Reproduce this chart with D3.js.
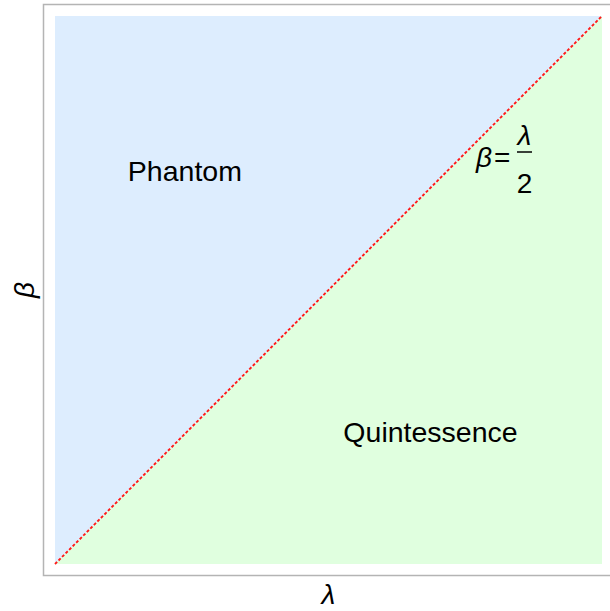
<!DOCTYPE html>
<html>
<head>
<meta charset="utf-8">
<script src="https://cdn.jsdelivr.net/npm/d3@7"></script>
<style>
  body { margin: 0; background: #fff; }
  text { font-family: "Liberation Sans", Arial, sans-serif; fill: #000; }
</style>
</head>
<body>
<div id="chart"></div>
<script>
// data
const lambdaDomain = [0, 2];
const betaDomain = [0, 1];
const boundaryLambda = [0, 2];
const boundaryBeta = [0, 1];
const regionNames = ["Phantom", "Quintessence"];
const phantomPts = [[0, 0], [0, 1], [2, 1]];
const quintPts = [[0, 0], [2, 0], [2, 1]];

const width = 610, height = 611;

const svg = d3.select("#chart").append("svg")
    .attr("width", width).attr("height", height);

const x = d3.scaleLinear().domain(lambdaDomain).range([55, 602]);
const y = d3.scaleLinear().domain(betaDomain).range([564, 16]);

// frame
svg.append("rect")
    .attr("x", 43.5).attr("y", 4.5)
    .attr("width", 571).attr("height", 571)
    .attr("fill", "none")
    .attr("stroke", "#b4b4b4")
    .attr("stroke-width", 1.5);

const poly = d3.line().x(d => x(d[0])).y(d => y(d[1]));

svg.append("path")
    .attr("d", poly(phantomPts) + "Z")
    .attr("fill", "#ddedfe");

svg.append("path")
    .attr("d", poly(quintPts) + "Z")
    .attr("fill", "#e0ffdf");

// boundary line
const boundary = boundaryLambda.map((l, i) => [l, boundaryBeta[i]]);
svg.append("path")
    .attr("d", poly(boundary))
    .attr("fill", "none")
    .attr("stroke", "#ff1a1a")
    .attr("stroke-width", 1.9)
    .attr("stroke-dasharray", "3,2");

// region labels
svg.append("text")
    .attr("x", x(0.475)).attr("y", y(0.699))
    .attr("text-anchor", "middle")
    .attr("font-size", 28.5)
    .text(regionNames[0]);

svg.append("text")
    .attr("x", x(1.373)).attr("y", y(0.223))
    .attr("text-anchor", "middle")
    .attr("font-size", 28.5)
    .text(regionNames[1]);

// beta = lambda / 2 label
const lab = svg.append("g").attr("transform", "translate(476,167)");
lab.append("text")
    .attr("x", 0).attr("y", 0)
    .attr("font-size", 28)
    .attr("font-style", "italic")
    .text("β");
lab.append("text")
    .attr("x", 18).attr("y", 0)
    .attr("font-size", 28)
    .text("=");
lab.append("text")
    .attr("x", 48.5).attr("y", -22)
    .attr("text-anchor", "middle")
    .attr("font-size", 28)
    .attr("font-style", "italic")
    .text("λ");
lab.append("line")
    .attr("x1", 41).attr("x2", 56)
    .attr("y1", -15).attr("y2", -15)
    .attr("stroke", "#000").attr("stroke-width", 1.5);
lab.append("text")
    .attr("x", 48.5).attr("y", 26)
    .attr("text-anchor", "middle")
    .attr("font-size", 28)
    .text("2");

// axis labels
svg.append("text")
    .attr("transform", `translate(34,${(y(0) + y(1)) / 2}) rotate(-90)`)
    .attr("text-anchor", "middle")
    .attr("font-size", 28)
    .attr("font-style", "italic")
    .text("β");

svg.append("text")
    .attr("x", (x(0) + x(2)) / 2).attr("y", 604)
    .attr("text-anchor", "middle")
    .attr("font-size", 28)
    .attr("font-style", "italic")
    .text("λ");
</script>
</body>
</html>
